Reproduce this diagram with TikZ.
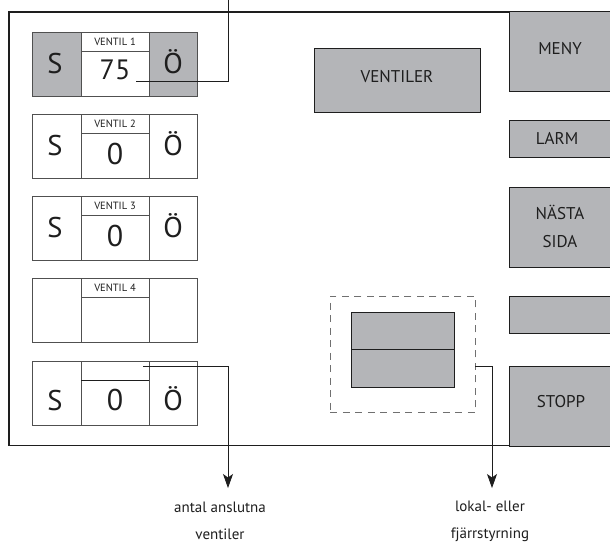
\documentclass[tikz,border=0pt]{standalone}
\usepackage{fontspec}
\setmainfont{PT Sans}
\usetikzlibrary{arrows.meta}
\definecolor{grayf}{HTML}{B4B5B8}
\definecolor{linec}{HTML}{505050}
\definecolor{darkl}{HTML}{1E1E1E}
\definecolor{dashc}{HTML}{707070}
\begin{document}
\begin{tikzpicture}[x=1pt,y=-1pt,
  cell/.style={draw=linec, line width=0.9pt, inner sep=0pt, outer sep=0pt, anchor=north west},
  btn/.style={draw=darkl, fill=grayf, line width=0.9pt, inner sep=0pt, outer sep=0pt, anchor=north west},
  big/.style={font=\fontsize{28.5}{30}\selectfont, inner sep=0pt, text=darkl},
  num/.style={font=\fontsize{30}{32}\selectfont, inner sep=0pt, text=darkl},
  hdr/.style={font=\fontsize{10.5}{12}\selectfont, inner sep=0pt, text=darkl},
  lbl/.style={font=\fontsize{17}{28}\selectfont, inner sep=0pt, align=center, text=darkl},
  note/.style={font=\fontsize{15}{27}\selectfont, inner sep=0pt, align=center, text=darkl},
  leader/.style={draw=darkl, line width=0.8pt},
  arr/.style={leader, -{Stealth[length=14pt,width=10pt,inset=3.5pt]}}]
\clip (0,0) rectangle (610,544);
\fill[white] (0,0) rectangle (610,544);
% outer frame
\draw[darkl, line width=1.4pt] (630,12) -- (9,12) -- (9,445.5) -- (630,445.5);
% valve rows
\foreach \i/\y in {1/32,2/114.25,3/196.5,4/278.75,5/361} {
  \node[cell, minimum width=49pt, minimum height=64pt] (s\i) at (32,\y) {};
  \node[cell, minimum width=68pt, minimum height=19pt] (h\i) at (81,\y) {};
  \node[cell, minimum width=68pt, minimum height=45pt] (v\i) at (81,{\y+19}) {};
  \node[cell, minimum width=48pt, minimum height=64pt] (o\i) at (149,\y) {};
}
\fill[grayf] (s1.north west) rectangle (s1.south east);
\fill[grayf] (o1.north west) rectangle (o1.south east);
\draw[linec, line width=0.9pt] (s1.north west) rectangle (s1.south east);
\draw[linec, line width=0.9pt] (o1.north west) rectangle (o1.south east);
\draw[darkl, line width=1pt] (h5.south west) -- (h5.south east);
% headers
\node[hdr] (ht1) at (h1.center) {VENTIL 1};
\node[hdr] (ht2) at (h2.center) {VENTIL 2};
\node[hdr] (ht3) at (h3.center) {VENTIL 3};
\node[hdr] (ht4) at (h4.center) {VENTIL 4};
% letters and numbers
\node[big] (st1) at (55,64) {S};
\node[big] (ot1) at (173,62) {Ö};
\node[num, font=\fontsize{28}{30}\selectfont] (nt1) at (115,70) {75};
\node[big] (st2) at (55,146) {S};
\node[big] (ot2) at (173,144) {Ö};
\node[num] (nt2) at (115,154) {0};
\node[big] (st3) at (55,228) {S};
\node[big] (ot3) at (173,226) {Ö};
\node[num] (nt3) at (115,236) {0};
\node[big] (st5) at (55,401) {S};
\node[big] (ot5) at (173,399) {Ö};
\node[num] (nt5) at (115,400) {0};
% right buttons
\node[btn, minimum width=120pt, minimum height=80pt] (meny) at (509,11) {};
\node[lbl] (menyt) at (560,49) {MENY};
\node[btn, minimum width=120pt, minimum height=37pt] (larm) at (509,120) {};
\node[lbl] (larmt) at (557,138) {LARM};
\node[btn, minimum width=120pt, minimum height=80pt] (nasta) at (509,187) {};
\node[lbl] (nastat) at (560,226) {NÄSTA\\SIDA};
\node[btn, minimum width=120pt, minimum height=37pt] (blank) at (509,296) {};
\node[btn, minimum width=120pt, minimum height=80pt] (stopp) at (509,366) {};
\node[lbl] (stoppt) at (561,402) {STOPP};
% ventiler
\node[btn, minimum width=166pt, minimum height=64pt] (vent) at (314,48) {};
\node[lbl] (ventt) at (397,77) {VENTILER};
% local/remote switch
\node[draw=dashc, line width=0.9pt, dash pattern=on 7pt off 5.5pt, inner sep=0pt, anchor=north west,
      minimum width=145pt, minimum height=116pt] (dbox) at (330,296) {};
\node[btn, minimum width=103pt, minimum height=37pt] (sw1) at (351,312) {};
\node[btn, minimum width=103pt, minimum height=38pt] (sw2) at (351,349) {};
% leaders
\coordinate (l1s) at (136,81);
\coordinate (l1e) at (228,-2);
\draw[leader] (l1s) -| (l1e);
\coordinate (l5s) at (143,366);
\coordinate (a1) at (228,488);
\draw[arr] (l5s) -| (a1);
\coordinate (l6s) at (475,366);
\coordinate (a2) at (492,488);
\draw[arr] (l6s) -| (a2);
% notes
\node[note] (n1) at (220,521) {antal anslutna\\ventiler};
\node[note] (n2) at (490,521) {lokal- eller\\fjärrstyrning};
\end{tikzpicture}
\end{document}
